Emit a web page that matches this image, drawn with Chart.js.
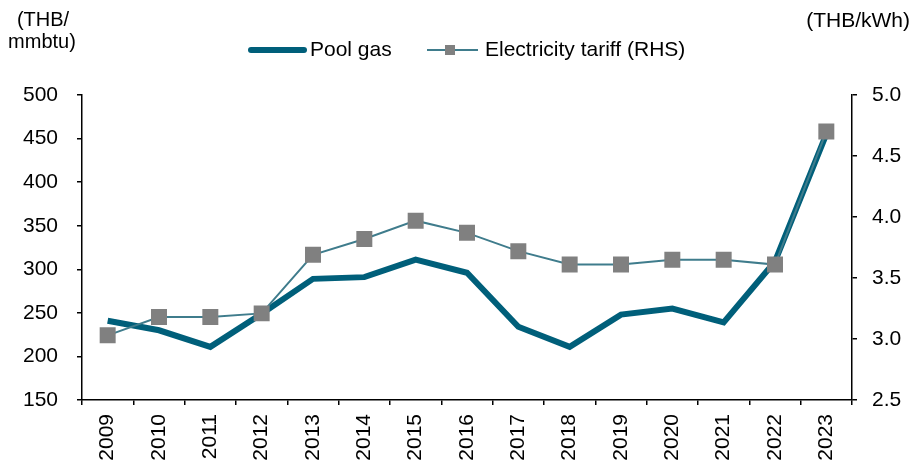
<!DOCTYPE html>
<html>
<head>
<meta charset="utf-8">
<script src="https://cdn.jsdelivr.net/npm/chart.js@4/dist/chart.umd.min.js"></script>
<style>
  html, body { margin: 0; padding: 0; background: #fff; }
  #wrap { width: 915px; height: 468px; position: relative; }
</style>
</head>
<body>
<div id="wrap"><canvas id="chart" width="915" height="468"></canvas></div>
<script>
const years = ["2009", "2010", "2011", "2012", "2013", "2014", "2015", "2016",
    "2017", "2018", "2019", "2020", "2021", "2022", "2023"];
const poolGas = [241, 230, 211, 249, 289, 291, 311, 296, 234, 211, 248, 255, 239, 309, 455];
const tariff = [3.03, 3.18, 3.18, 3.21, 3.69, 3.82, 3.97, 3.87, 3.72, 3.61, 3.61, 3.65, 3.65, 3.61, 4.70];
const leftTicks = [150, 200, 250, 300, 350, 400, 450, 500];
const rightTicks = [2.5, 3.0, 3.5, 4.0, 4.5, 5.0];

const FONT = "'Liberation Sans', Arial, sans-serif";
const gasColor = "#005f7a";
const tariffLine = "#3f7c8c";
const markerColor = "#808080";

const titlesAndLegend = {
    id: "titlesAndLegend",
    afterDraw(chart) {
        const ctx = chart.ctx;
        ctx.save();
        ctx.fillStyle = "#000";
        ctx.font = "20px " + FONT;
        ctx.textBaseline = "middle";

        ctx.textAlign = "center";
        ctx.fillText("(THB/", 43, 20);
        ctx.fillText("mmbtu)", 42, 42);
        ctx.textAlign = "right";
        ctx.font = "21px " + FONT;
        ctx.fillText("(THB/kWh)", 910, 21);

        // legend
        const ly = 50;
        ctx.strokeStyle = gasColor;
        ctx.lineWidth = 6;
        ctx.lineCap = "round";
        ctx.beginPath();
        ctx.moveTo(251, ly);
        ctx.lineTo(304, ly);
        ctx.stroke();
        ctx.textAlign = "left";
        ctx.fillText("Pool gas", 310, ly);

        ctx.strokeStyle = tariffLine;
        ctx.lineWidth = 2;
        ctx.lineCap = "butt";
        ctx.beginPath();
        ctx.moveTo(427, ly);
        ctx.lineTo(478, ly);
        ctx.stroke();
        ctx.fillStyle = markerColor;
        ctx.fillRect(445, ly - 5, 10, 10);
        ctx.fillStyle = "#000";
        ctx.fillText("Electricity tariff (RHS)", 485, ly);
        ctx.restore();
    }
};

new Chart(document.getElementById("chart"), {
    type: "line",
    data: {
        labels: years,
        datasets: [
            {
                label: "Pool gas",
                data: poolGas,
                yAxisID: "y",
                borderColor: gasColor,
                borderWidth: 6,
                pointRadius: 0,
                tension: 0,
                order: 2
            },
            {
                label: "Electricity tariff (RHS)",
                data: tariff,
                yAxisID: "y1",
                borderColor: tariffLine,
                borderWidth: 2,
                pointStyle: "rect",
                pointRadius: 11.3,
                pointBackgroundColor: markerColor,
                pointBorderColor: markerColor,
                pointBorderWidth: 0,
                tension: 0,
                order: 1
            }
        ]
    },
    options: {
        responsive: false,
        animation: false,
        layout: { padding: { top: 95, left: 0, right: 0, bottom: 0 } },
        plugins: {
            legend: { display: false },
            tooltip: { enabled: false }
        },
        scales: {
            x: {
                offset: true,
                grid: {
                    offset: true,
                    drawOnChartArea: false,
                    color: "#000",
                    tickLength: 5,
                    lineWidth: 1.5
                },
                border: { color: "#000", width: 1.5 },
                ticks: {
                    color: "#000",
                    font: { family: FONT, size: 21 },
                    minRotation: 90,
                    maxRotation: 90,
                    padding: 9
                },
                afterFit(scale) { scale.height = 68; }
            },
            y: {
                position: "left",
                min: 150,
                max: 500,
                afterBuildTicks(scale) { scale.ticks = leftTicks.map(v => ({ value: v })); },
                grid: {
                    drawOnChartArea: false,
                    color: "#000",
                    tickLength: 5,
                    lineWidth: 1.5
                },
                border: { color: "#000", width: 1.5 },
                ticks: {
                    color: "#000",
                    font: { family: FONT, size: 21 },
                    padding: 19
                },
                afterFit(scale) { scale.width = 82; }
            },
            y1: {
                position: "right",
                min: 2.5,
                max: 5.0,
                afterBuildTicks(scale) { scale.ticks = rightTicks.map(v => ({ value: v })); },
                grid: {
                    drawOnChartArea: false,
                    color: "#000",
                    tickLength: 5,
                    lineWidth: 1.5
                },
                border: { color: "#000", width: 1.5 },
                ticks: {
                    color: "#000",
                    font: { family: FONT, size: 21 },
                    padding: 15,
                    callback: v => Number(v).toFixed(1)
                },
                afterFit(scale) { scale.width = 63; }
            }
        }
    },
    plugins: [titlesAndLegend]
});
</script>
</body>
</html>
